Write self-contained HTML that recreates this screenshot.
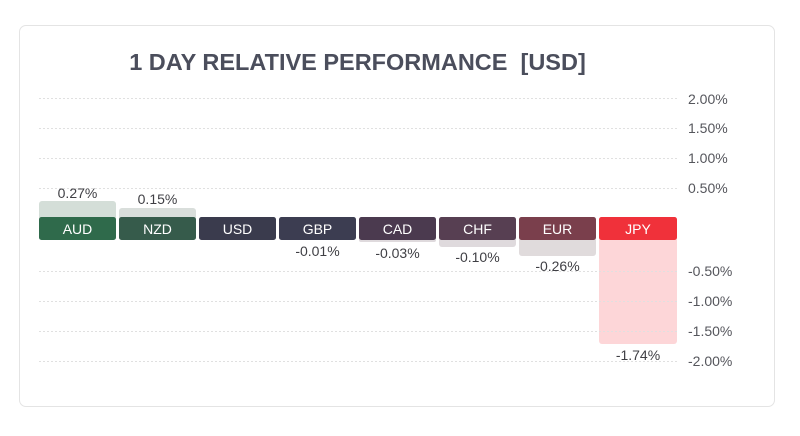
<!DOCTYPE html>
<html><head><meta charset="utf-8"><style>
html,body{margin:0;padding:0;background:#fff;}
body{width:800px;height:436px;overflow:hidden;position:relative;font-family:"Liberation Sans",sans-serif;}
.card{position:absolute;left:19px;top:25px;width:754px;height:380px;border:1px solid #e4e4e4;border-radius:7px;background:#fff;}
svg{position:absolute;left:0;top:0;}
</style></head><body>
<div class="card"></div>
<svg width="800" height="436" viewBox="0 0 800 436" font-family="Liberation Sans, sans-serif">
  <text x="357.5" y="70" text-anchor="middle" font-size="23.5" font-weight="bold" fill="#4b4e5c" style="white-space:pre" xml:space="preserve">1 DAY RELATIVE PERFORMANCE  [USD]</text>

  <!-- shadow bars -->
  <rect x="39" y="201" width="77" height="20" rx="3" fill="#d4ded8"/>
  <rect x="119" y="208" width="77" height="13" rx="3" fill="#d9dedb"/>
  <rect x="359" y="237" width="77" height="5" rx="2" fill="#dfdadd"/>
  <rect x="439" y="237" width="77" height="10" rx="3" fill="#dfdadd"/>
  <rect x="519" y="237" width="77" height="19" rx="3" fill="#e0dbdc"/>
  <rect x="599" y="237" width="78" height="107" rx="3" fill="#fdd6d8"/>

  <!-- gridlines -->
  <g stroke="#e0e0e0" stroke-width="1" stroke-dasharray="2,2">
    <line x1="39" y1="98.5" x2="678" y2="98.5"/>
    <line x1="39" y1="128.5" x2="678" y2="128.5"/>
    <line x1="39" y1="158.5" x2="678" y2="158.5"/>
    <line x1="39" y1="188.5" x2="678" y2="188.5"/>
    <line x1="39" y1="271.5" x2="678" y2="271.5"/>
    <line x1="39" y1="301.5" x2="678" y2="301.5"/>
    <line x1="39" y1="331.5" x2="678" y2="331.5"/>
    <line x1="39" y1="361.5" x2="678" y2="361.5"/>
  </g>

  <!-- label band -->
  <rect x="39" y="217" width="77" height="23" rx="2.5" fill="#2f6a4b"/>
  <rect x="119" y="217" width="77" height="23" rx="2.5" fill="#365b4b"/>
  <rect x="199" y="217" width="77" height="23" rx="2.5" fill="#3a3b4d"/>
  <rect x="279" y="217" width="77" height="23" rx="2.5" fill="#3c3d51"/>
  <rect x="359" y="217" width="77" height="23" rx="2.5" fill="#4b3a4f"/>
  <rect x="439" y="217" width="77" height="23" rx="2.5" fill="#573f52"/>
  <rect x="519" y="217" width="77" height="23" rx="2.5" fill="#7a3f4c"/>
  <rect x="599" y="217" width="78" height="23" rx="2.5" fill="#f0313a"/>

  <g font-size="14" fill="#ffffff" text-anchor="middle">
    <text x="77.5" y="234">AUD</text>
    <text x="157.5" y="234">NZD</text>
    <text x="237.5" y="234">USD</text>
    <text x="317.5" y="234">GBP</text>
    <text x="397.5" y="234">CAD</text>
    <text x="477.5" y="234">CHF</text>
    <text x="557.5" y="234">EUR</text>
    <text x="638" y="234">JPY</text>
  </g>

  <g font-size="14" fill="#3f3f44" text-anchor="middle">
    <text x="77.5" y="198">0.27%</text>
    <text x="157.5" y="204">0.15%</text>
    <text x="317.5" y="256">-0.01%</text>
    <text x="397.5" y="258">-0.03%</text>
    <text x="477.5" y="262">-0.10%</text>
    <text x="557.5" y="271">-0.26%</text>
    <text x="638" y="360">-1.74%</text>
  </g>

  <g font-size="14" fill="#55565c">
    <text x="688" y="104">2.00%</text>
    <text x="688" y="133">1.50%</text>
    <text x="688" y="163">1.00%</text>
    <text x="688" y="193">0.50%</text>
    <text x="688" y="276">-0.50%</text>
    <text x="688" y="306">-1.00%</text>
    <text x="688" y="336">-1.50%</text>
    <text x="688" y="366">-2.00%</text>
  </g>
</svg>
</body></html>
